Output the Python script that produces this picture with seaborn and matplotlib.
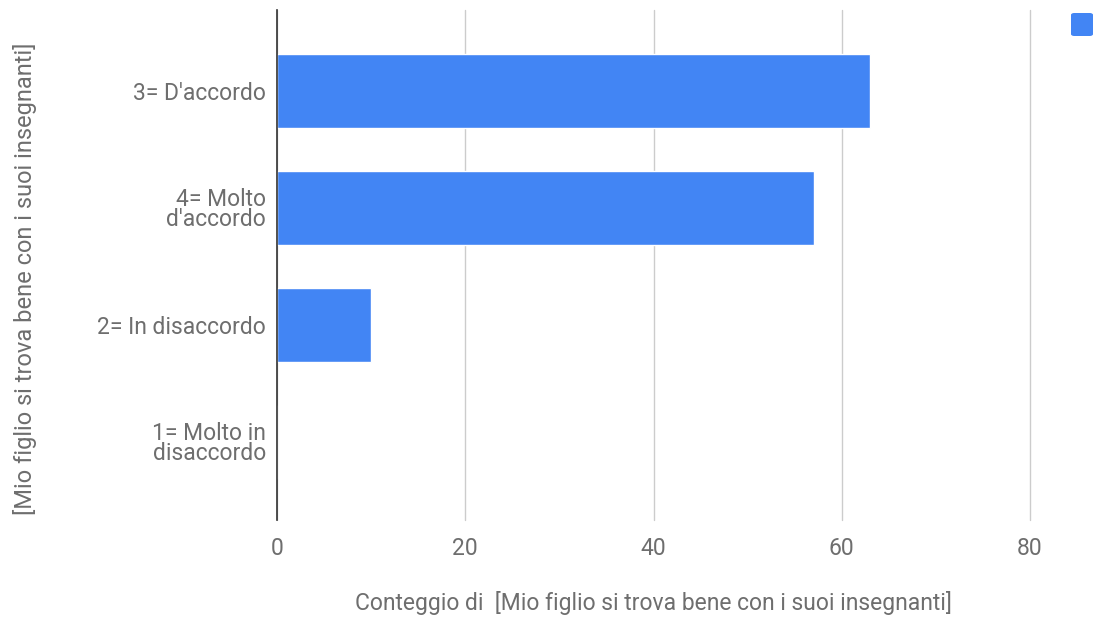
import matplotlib
matplotlib.use("Agg")
import matplotlib.pyplot as plt
import seaborn as sns
import pandas as pd
from matplotlib.patches import FancyBboxPatch

categories = ["3= D'accordo", "4= Molto\nd'accordo", "2= In disaccordo", "1= Molto in\ndisaccordo"]
counts = [63, 57, 10, 0]
x_ticks = [0, 20, 40, 60, 80]
x_label = "Conteggio di  [Mio figlio si trova bene con i suoi insegnanti]"
y_label = "[Mio figlio si trova bene con i suoi insegnanti]"

sns.set_theme(style="white")
plt.rcParams['font.family'] = ['Roboto', 'DejaVu Sans']

df = pd.DataFrame({"cat": categories, "count": counts})

fig = plt.figure(figsize=(10.93, 6.19), dpi=100)
ax = fig.add_axes([277/1093, 1-520/619, (1030-277)/1093, (520-10)/619])

sns.barplot(data=df, x="count", y="cat", orient="h", color="#4285F4",
            saturation=1, width=0.64, ax=ax, order=categories)

ax.set_xlim(0, 80)
ax.set_ylim(3 + 78/117, -81/117)
ax.set_xticks(x_ticks)
ax.xaxis.grid(True, color="#cccccc", linewidth=1)
for gl in ax.get_xgridlines():
    gl.set_clip_on(False)
ax.set_axisbelow(True)
for s in ["top", "right", "bottom"]:
    ax.spines[s].set_visible(False)
ax.spines["left"].set_color("#333333")
ax.spines["left"].set_linewidth(1.2)
ax.tick_params(axis="both", length=0, labelsize=16.5, colors="#6e6e6e")
ax.tick_params(axis="x", pad=12)
ax.tick_params(axis="y", pad=8)
for lab in ax.get_yticklabels():
    lab.set_horizontalalignment("right")
    lab.set_multialignment("right")
    lab.set_linespacing(0.85)

ax.set_xlabel(x_label, fontsize=16.5, color="#6e6e6e")
ax.xaxis.set_label_coords(0.5, -(603-520)/510, transform=ax.transAxes)
ax.xaxis.label.set_verticalalignment("center")
ax.set_ylabel(y_label, fontsize=17, color="#6e6e6e")
ax.yaxis.set_label_coords(-(277-25)/753, (520-279)/510)
ax.yaxis.label.set_verticalalignment("center")

# legend swatch (no label)
fig.patches.append(FancyBboxPatch((1071/1093, 1-36/619), 22/1093, 23/619,
                                  boxstyle="round,pad=0,rounding_size=0.003",
                                  transform=fig.transFigure, facecolor="#4285F4",
                                  edgecolor="none", figure=fig))

fig.savefig("out.png", dpi=100)
